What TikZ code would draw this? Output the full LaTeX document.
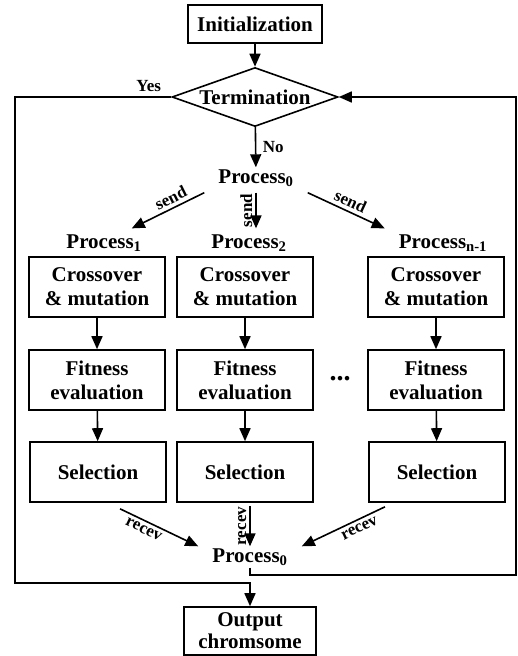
\documentclass[tikz,border=0pt]{standalone}
\usepackage{fontspec}
\setmainfont{Liberation Serif}
\usetikzlibrary{positioning, calc, shapes.geometric, arrows.meta}
\tikzstyle{Arrow} = [
%Create custom arrow style:
line width=1.6pt,
-{Triangle[length=13pt, width=11pt]}
]

\begin{document}
\begin{tikzpicture}[x=1pt, y=1pt,
			font=\bfseries\fontsize{21}{24}\selectfont,
			inner sep=2pt,
			block/.style = {rectangle, line width=1.6pt, draw, align=center, minimum width=136pt, minimum height=60pt},
			decision/.style = {diamond, line width=1.6pt, draw, aspect=2.8, minimum width=166pt, minimum height=59pt, inner sep=0pt},
			tag/.style = {font=\bfseries\fontsize{17}{17}\selectfont, inner sep=3.5pt},
		]
		\useasboundingbox (0,0) rectangle (517,-656);

		\node[block, minimum width=134pt, minimum height=38pt](Init) at (255,-24){Initialization};
		\node[decision](Term) at (255,-97){Termination};
		\node(P0) at (256,-178){Process\textsubscript{0}};
		\node(P1) at (104,-243){Process\textsubscript{1}};
		\node(P2) at (249,-243){Process\textsubscript{2}};
		\node(Pn) at (443,-243){Process\textsubscript{n-1}};

		\node[block](C1) at (97,-287){Crossover\\\& mutation};
		\node[block](C2) at (245,-287){Crossover\\\& mutation};
		\node[block](C3) at (436,-287){Crossover\\\& mutation};
		\node[block](F1) at (97,-380){Fitness\\evaluation};
		\node[block](F2) at (245,-380){Fitness\\evaluation};
		\node[block](F3) at (436,-380){Fitness\\evaluation};
		\node[block](S1) at (98,-472){Selection};
		\node[block](S2) at (245,-472){Selection};
		\node[block](S3) at (437,-472){Selection};
		\node[font=\bfseries\fontsize{28}{28}\selectfont](Dots) at (340,-379){...};

		\node(Pb) at (250,-557){Process\textsubscript{0}};
		\node[block, minimum width=132pt, minimum height=48pt, inner sep=0pt, font=\bfseries\fontsize{21}{22}\selectfont](Out) at (250,-631){Output\\chromsome};

		\coordinate(YesC) at (15,-583);
		\coordinate(RetC) at (516,-575);

		\draw[Arrow](Init)--(Term);
		\draw[Arrow](Term)--node[tag, right=3pt]{No}(P0);
		\draw[Arrow]([xshift=-12pt, yshift=-4pt]P0.south west)--node[tag, pos=0.4, above, sloped]{send}([xshift=-12pt, yshift=4pt]P1.north east);
		\draw[Arrow]([yshift=-4pt]P0.south)--node[tag, midway, rotate=90, anchor=south, inner sep=3pt]{send}([yshift=4pt]P0.south |- P2.north);
		\draw[Arrow]([xshift=12pt, yshift=-4pt]P0.south east)--node[tag, midway, above, sloped]{send}([xshift=-12pt, yshift=4pt]Pn.north west);

		\draw[Arrow](C1)--(F1);
		\draw[Arrow](C2)--(F2);
		\draw[Arrow](C3)--(F3);
		\draw[Arrow](F1)--(S1);
		\draw[Arrow](F2)--(S2);
		\draw[Arrow](F3)--(S3);

		\draw[Arrow]([xshift=22pt, yshift=-6pt]S1.south)--node[tag, pos=0.35, below, sloped]{recev}([xshift=-12pt]Pb.north west);
		\draw[Arrow]([yshift=-3pt]S2.south -| Pb.north)--node[tag, midway, rotate=90, anchor=south, inner sep=3pt]{recev}(Pb.north);
		\draw[Arrow]([xshift=-52pt, yshift=-4pt]S3.south)--node[tag, pos=0.35, below, sloped]{recev}([xshift=12pt]Pb.north east);

		\draw[Arrow](Term.west) node[tag, above left=1pt and 6pt]{Yes} -| (YesC) -| (Out.north);
		\draw[Arrow](Pb.south) |- (RetC) |- (Term.east);
	\end{tikzpicture}
\end{document}
